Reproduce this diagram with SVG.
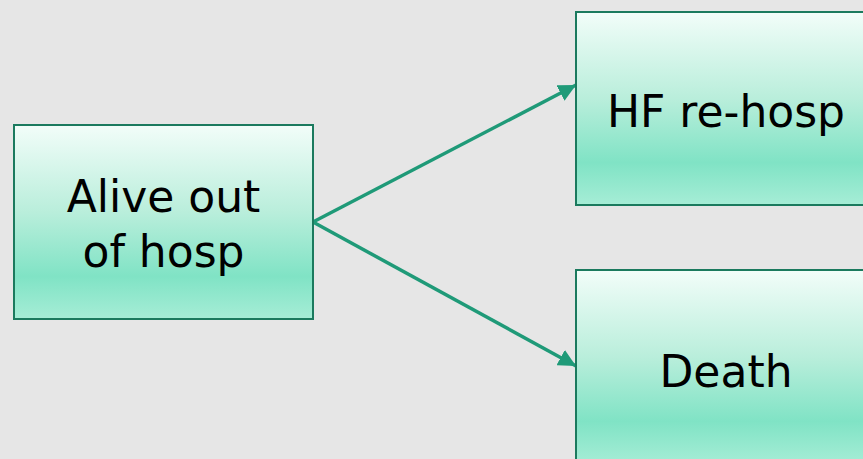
<svg xmlns="http://www.w3.org/2000/svg" width="863" height="459" viewBox="0 0 863 459">
<defs>
<linearGradient id="g" x1="0" y1="0" x2="0" y2="1">
<stop offset="0" stop-color="#f2fdf9"/>
<stop offset="0.45" stop-color="#b9eedb"/>
<stop offset="0.78" stop-color="#80e3c5"/>
<stop offset="1" stop-color="#a6edd6"/>
</linearGradient>
<marker id="ah" viewBox="0 0 10 10" refX="10" refY="5" markerWidth="5" markerHeight="5" markerUnits="strokeWidth" orient="auto">
<path d="M0,0 L10,5 L0,10 z" fill="#1f9a78"/>
</marker>
<style>
.box{fill:url(#g);stroke:#1b7a5e;stroke-width:2}
.lbl{font-family:"DejaVu Sans",sans-serif;font-size:44px;fill:#000;text-anchor:middle}
.con{stroke:#1f9a78;stroke-width:3.5;fill:none;marker-end:url(#ah)}
</style>
</defs>
<rect width="863" height="459" fill="#e6e6e6"/>
<g id="connectors">
<line class="con" x1="313" y1="222" x2="576" y2="85"/>
<line class="con" x1="313" y1="222" x2="576" y2="366"/>
</g>
<g id="alive">
<rect class="box" x="14" y="125" width="299" height="194"/>
<text class="lbl" x="163.5" y="212">Alive out</text>
<text class="lbl" x="163.5" y="267">of hosp</text>
</g>
<g id="hf">
<rect class="box" x="576" y="12" width="300" height="193"/>
<text class="lbl" x="726" y="127">HF re-hosp</text>
</g>
<g id="death">
<rect class="box" x="576" y="270" width="300" height="194"/>
<text class="lbl" x="726" y="387">Death</text>
</g>
</svg>
